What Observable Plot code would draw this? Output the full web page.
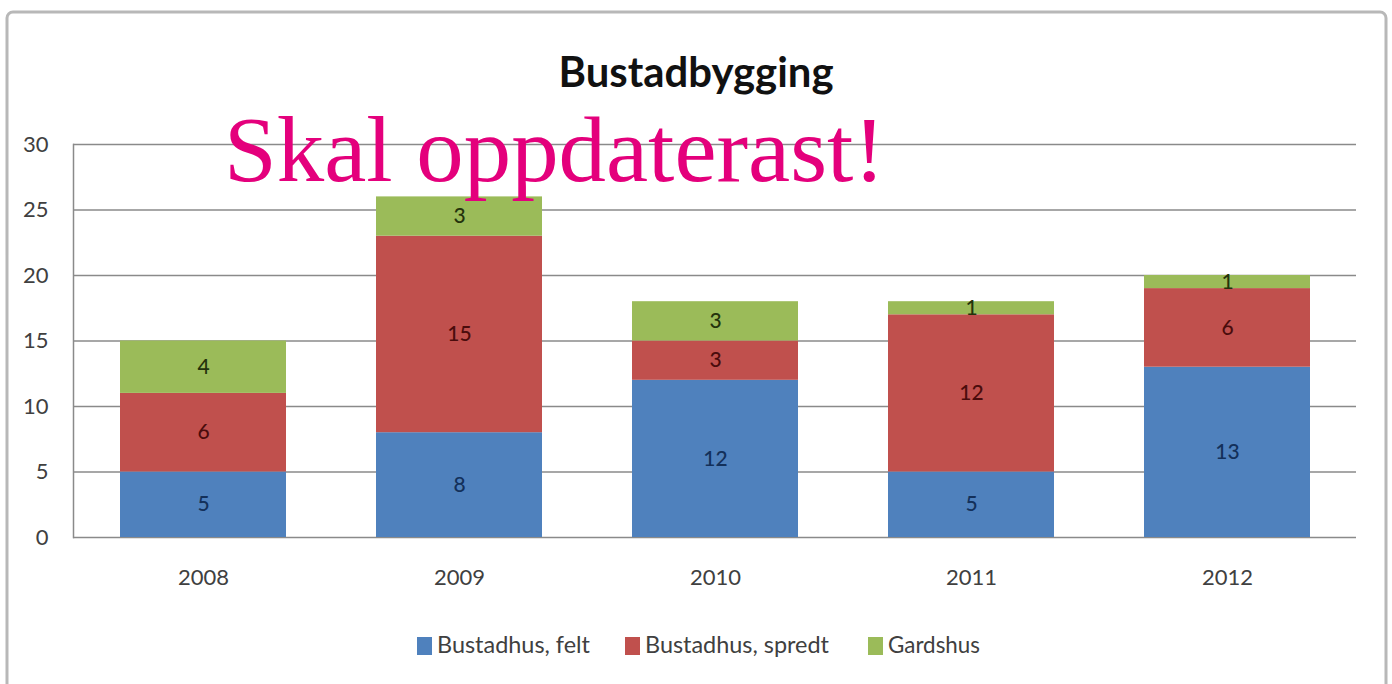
<!DOCTYPE html>
<html><head><meta charset="utf-8">
<script src="https://cdn.jsdelivr.net/npm/d3@7"></script>
<script src="https://cdn.jsdelivr.net/npm/@observablehq/plot@0.6"></script>
<style>
html,body{margin:0;padding:0;background:#fff;}
#wrap{position:relative;width:1392px;height:684px;overflow:hidden;}
#wrap svg{position:absolute;left:0;top:0;}
</style></head><body><div id="wrap"></div>
<script>
const years = ["2008","2009","2010","2011","2012"];
const seriesNames = ["Bustadhus, felt","Bustadhus, spredt","Gardshus"];
const felt = [5,8,12,5,13];
const spredt = [6,15,3,12,6];
const gardshus = [4,3,3,1,1];
const yTicks = [0,5,10,15,20,25,30];
const barColors = ["#4F81BD","#C0504D","#9BBB59"];
const labelColors = ["#13305a","#4a0c0c","#24330c"];
const chartTitle = "Bustadbygging";
const stamp = "Skal oppdaterast!";

const values = [felt, spredt, gardshus];
const data = [];
years.forEach((yr, i) => seriesNames.forEach((s, j) => data.push({year: yr, series: s, si: j, value: values[j][i]})));

const font = "Lato, 'Open Sans', sans-serif";

const plot = Plot.plot({
  width: 1392, height: 684,
  marginLeft: 73, marginRight: 36, marginTop: 144, marginBottom: 147,
  style: {fontFamily: font, fontSize: "22px", color: "#404040", background: "transparent"},
  x: {domain: years, paddingInner: 0.353, paddingOuter: 0.1765, label: null},
  y: {domain: [0, 30], label: null},
  marks: [
    Plot.ruleY(yTicks, {stroke: "#8a8a8a", strokeWidth: 1.5}),
    Plot.frame({anchor: "left", stroke: "#8a8a8a", strokeWidth: 1.5}),
    Plot.barY(data, Plot.stackY({x: "year", y: "value", z: "series", fill: d => barColors[d.si]})),
    Plot.text(data, Plot.stackY({x: "year", y: "value", z: "series", text: d => String(d.value), fill: d => labelColors[d.si], fontSize: 21, fontWeight: 500})),
    Plot.axisY({ticks: yTicks, tickSize: 0, tickPadding: 25, fill: "#404040", label: null}),
    Plot.axisX({tickSize: 0, tickPadding: 32, fill: "#404040", label: null})
  ]
});
const wrap = document.getElementById("wrap");
wrap.appendChild(plot);

// overlay: border, title, stamp, legend
const ov = d3.select(wrap).append("svg").attr("width", 1392).attr("height", 684).style("pointer-events", "none");
ov.append("rect").attr("x", 7).attr("y", 12).attr("width", 1379).attr("height", 700).attr("rx", 6)
  .attr("fill", "none").attr("stroke", "#b8b8b8").attr("stroke-width", 3);
ov.append("text").attr("x", 696).attr("y", 87).attr("text-anchor", "middle")
  .attr("font-family", font).attr("font-weight", "bold").attr("font-size", 42)
  .attr("textLength", 275).attr("lengthAdjust", "spacingAndGlyphs").attr("fill", "#111")
  .text(chartTitle);
const legendX = [417, 625, 868];
const legendLen = [153, 184, 92];
seriesNames.forEach((s, j) => {
  ov.append("rect").attr("x", legendX[j]).attr("y", 637).attr("width", 15).attr("height", 18).attr("fill", barColors[j]);
  ov.append("text").attr("x", legendX[j] + 20).attr("y", 653).attr("font-family", font).attr("font-size", 23)
    .attr("textLength", legendLen[j]).attr("lengthAdjust", "spacingAndGlyphs").attr("fill", "#404040").text(s);
});
ov.append("text").attr("x", 224).attr("y", 181)
  .attr("font-family", "'Liberation Serif', 'Times New Roman', serif").attr("font-size", 93)
  .attr("textLength", 661).attr("lengthAdjust", "spacingAndGlyphs").attr("fill", "#E4007C")
  .text(stamp);
</script></body></html>
